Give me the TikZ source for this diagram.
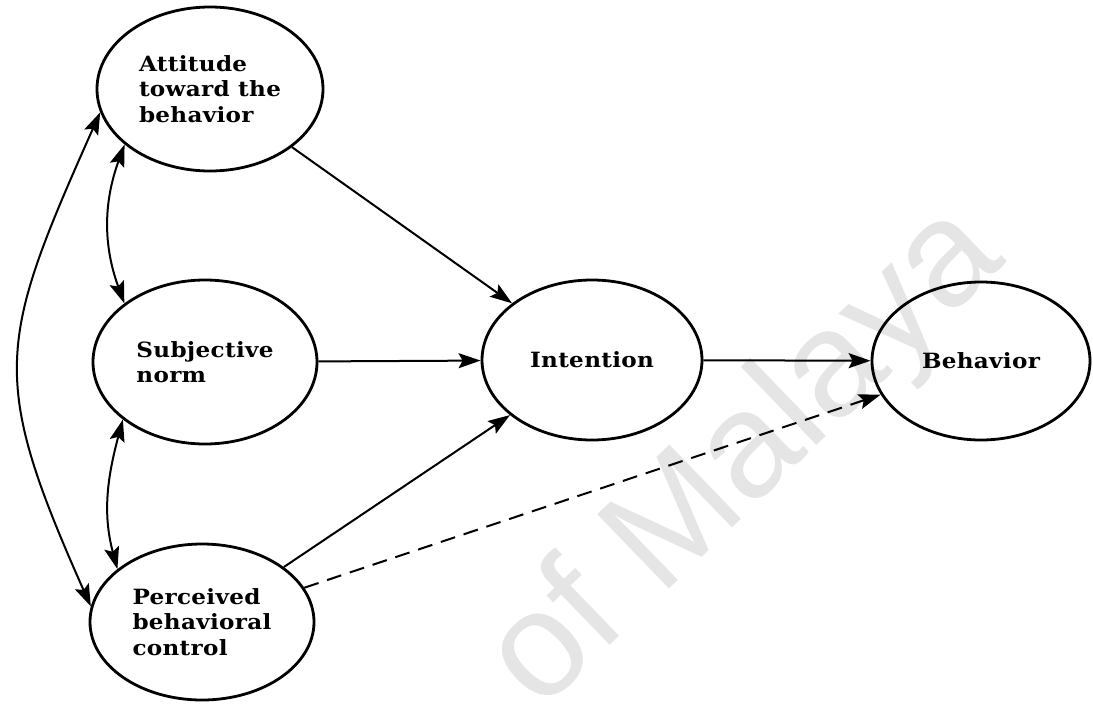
\documentclass[tikz,border=0pt]{standalone}
\usepackage{fontspec}
\setmainfont{DejaVu Serif}
\newfontfamily\labelfont[FakeStretch=1.1, LetterSpace=1.5]{DejaVu Serif}
\newfontfamily\wmfont{Liberation Sans}
\usetikzlibrary{arrows.meta,shapes.geometric}
\begin{document}
\begin{tikzpicture}[x=1pt,y=-1pt,
  construct/.style={draw, line width=2.8pt, ellipse, inner sep=0pt,
    font=\labelfont\bfseries\fontsize{21}{25.5}\selectfont, align=left},
  link/.style={line width=2pt, -{Stealth[length=22pt,width=15pt,inset=4pt]}},
  both/.style={line width=2pt, {Stealth[length=22pt,width=15pt,inset=4pt]}-{Stealth[length=22pt,width=15pt,inset=4pt]}},
  watermark/.style={text=black!10, font=\wmfont\fontsize{150}{150}\selectfont}
]
\useasboundingbox (0,0) rectangle (1093,704);
\clip (0,0) rectangle (1093,704);

% faint watermark behind the model
\node[watermark, rotate=44, anchor=base west, inner sep=0pt] (wm) at (540,713) {of Malaya};

% constructs
\node[construct, minimum width=226pt, minimum height=164pt] (att) at (210,89) {Attitude\\toward the\\behavior};
\node[construct, minimum width=224pt, minimum height=164pt] (sn)  at (205,362) {Subjective\\norm};
\node[construct, minimum width=224pt, minimum height=156pt] (pbc) at (202,622) {Perceived\\behavioral\\control};
\node[construct, minimum width=220pt, minimum height=160pt] (int) at (592,360) {Intention};
\node[construct, minimum width=218pt, minimum height=158pt] (beh) at (981,361) {Behavior};

% paths into intention and behaviour
\draw[link] (att) -- (int);
\draw[link] (sn) -- (int);
\draw[link] (pbc) -- (int);
\draw[link] (int) -- (beh);
\draw[link, dash pattern=on 15pt off 9pt] (pbc) -- (beh);

% correlations among the antecedents
\draw[both] (att.213) to[out=250, in=110] (sn.144);
\draw[both] (sn.215) to[out=255, in=105] (pbc.148);
\draw[both] (att.192) to[out=246, in=114, looseness=1.3] (pbc.172);
\end{tikzpicture}
\end{document}
